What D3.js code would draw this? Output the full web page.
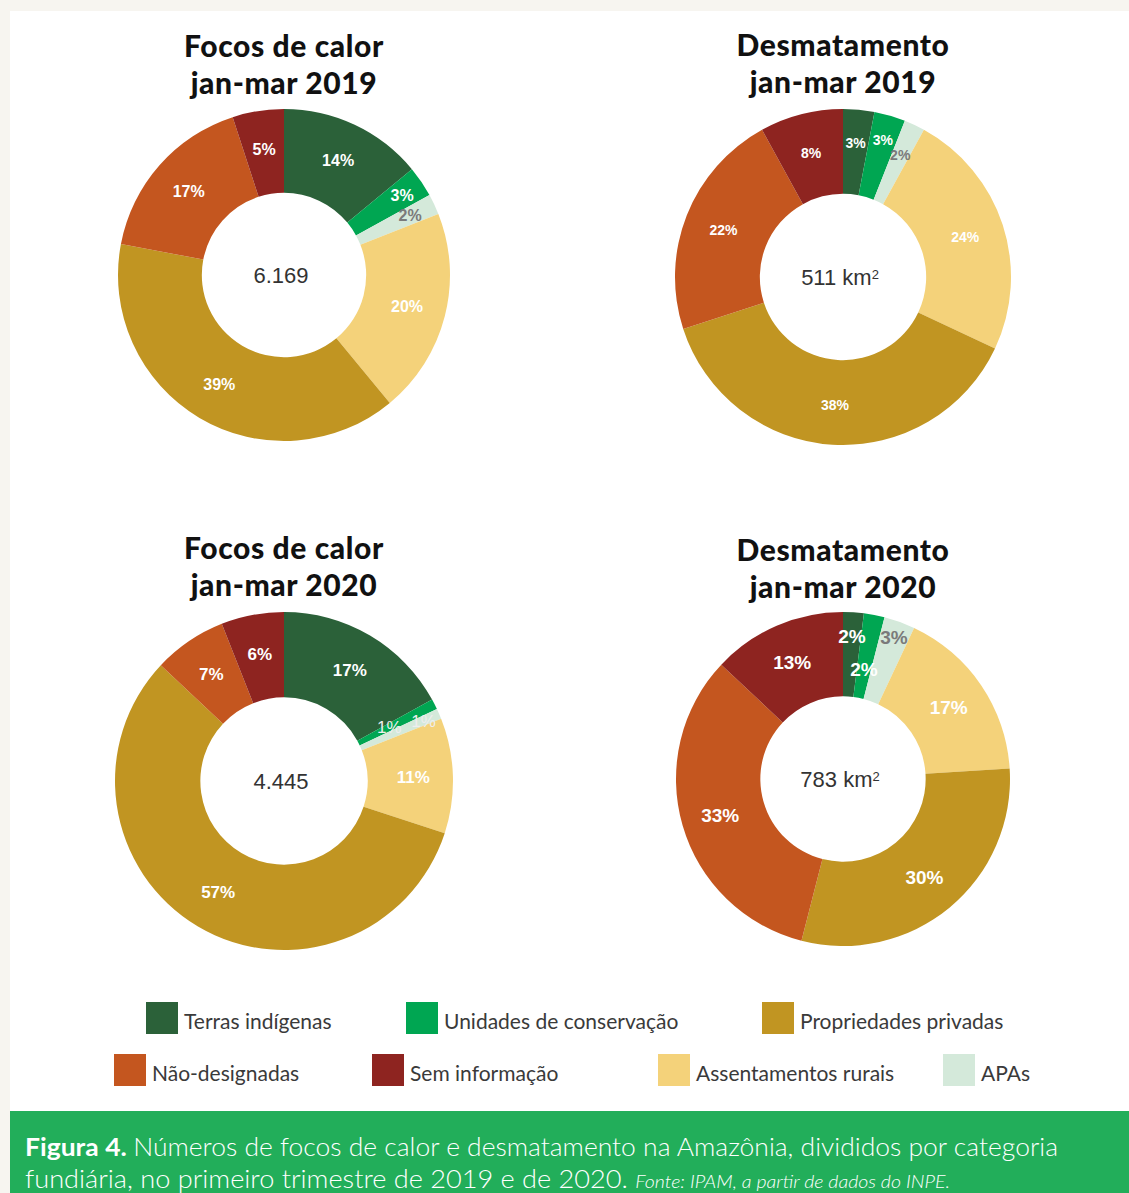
<!DOCTYPE html>
<html>
<head>
<meta charset="utf-8">
<script src="https://cdn.jsdelivr.net/npm/d3@7"></script>
<style>
  body { margin: 0; background: #f7f5f0; }
  svg { display: block; }
</style>
</head>
<body>
<script>
//Width and height
var w = 1129;
var h = 1193;

//Categories, in slice order (clockwise from 12 o'clock)
var categories = ["Terras indígenas", "Unidades de conservação", "APAs", "Assentamentos rurais",
  "Propriedades privadas", "Não-designadas", "Sem informação"];
var colors = ["#2b6139", "#00a652", "#d4e9da", "#f4d27a", "#c19522", "#c4561f", "#8e2420"];

//Series values (%)
var focos2019 = [14, 3, 2, 20, 39, 17, 5];
var desmat2019 = [3, 3, 2, 24, 38, 22, 8];
var focos2020 = [17, 1, 1, 11, 57, 7, 6];
var desmat2020 = [2, 2, 3, 17, 30, 33, 13];

var titlesTop = ["Focos de calor", "Desmatamento", "Focos de calor", "Desmatamento"];
var titlesBottom = ["jan-mar 2019", "jan-mar 2019", "jan-mar 2020", "jan-mar 2020"];
var totals = ["6.169", "511 km", "4.445", "783 km"];

//Legend rows
var legendRow1 = ["Terras indígenas", "Unidades de conservação", "Propriedades privadas"];
var legendRow2 = ["Não-designadas", "Sem informação", "Assentamentos rurais", "APAs"];

var svg = d3.select("body").append("svg").attr("width", w).attr("height", h);

//Panel and footer
svg.append("rect").attr("x", 10).attr("y", 11).attr("width", w - 10).attr("height", 1101).attr("fill", "#ffffff");
svg.append("rect").attr("x", 10).attr("y", 1111).attr("width", w - 10).attr("height", h - 1111).attr("fill", "#22ae5a");

//Chart layouts
var charts = [
  { data: focos2019, cx: 284, cy: 275, r: 166, fs: 16, smallR: [0.86, 0.84], sup: false, ty: 57 },
  { data: desmat2019, cx: 843, cy: 277, r: 168, fs: 14, smallR: [0.8, 0.85, 0.8], sup: true, ty: 56 },
  { data: focos2020, cx: 284, cy: 781, r: 169, fs: 17, smallR: [0.7, 0.9], sup: false, ty: 559 },
  { data: desmat2020, cx: 843, cy: 779, r: 167, fs: 19, smallR: [0.86, 0.67, 0.9], sup: true, ty: 561 }
];

var color = d3.scaleOrdinal().domain(categories).range(colors);

var pie = d3.pie().sort(null).value(function (d) { return d.value; });

charts.forEach(function (c, ci) {
  var rows = c.data.map(function (v, i) { return { cat: categories[i], value: v }; });
  var inner = c.r * 0.495;
  var arc = d3.arc().innerRadius(inner).outerRadius(c.r);
  var g = svg.append("g").attr("transform", "translate(" + c.cx + "," + c.cy + ")");

  var arcs = pie(rows);
  g.selectAll("path.slice")
    .data(arcs)
    .enter()
    .append("path")
    .attr("class", "slice")
    .attr("d", arc)
    .attr("fill", function (d) { return color(d.data.cat); });

  //Labels
  var k = 0;
  arcs.forEach(function (d) {
    var mid = (d.startAngle + d.endAngle) / 2;
    var rr = (inner + c.r) / 2 + 3;
    var small = d.data.value < 5;
    if (small) { rr = c.r * c.smallR[k]; k++; }
    var isApa = d.data.cat === "APAs";
    var thin = ci === 2 && small;
    g.append("text")
      .attr("x", Math.sin(mid) * rr)
      .attr("y", -Math.cos(mid) * rr)
      .attr("dy", "0.36em")
      .attr("text-anchor", "middle")
      .attr("font-family", "Liberation Sans, Arial, sans-serif")
      .attr("font-weight", thin ? "normal" : "bold")
      .attr("font-size", c.fs)
      .attr("fill", thin ? "#eeeeee" : (isApa ? "#7a7a7a" : "#ffffff"))
      .text(d.data.value + "%");
  });

  //Center total
  var t = g.append("text")
    .attr("x", -3)
    .attr("y", 0)
    .attr("dy", "0.36em")
    .attr("text-anchor", "middle")
    .attr("font-family", "Liberation Sans, Arial, sans-serif")
    .attr("font-size", 22)
    .attr("fill", "#333333")
    .text(totals[ci]);
  if (c.sup) {
    t.append("tspan").attr("dy", "-0.45em").attr("font-size", 13).text("2");
  }

  //Titles
  [titlesTop[ci], titlesBottom[ci]].forEach(function (s, j) {
    svg.append("text")
      .attr("x", c.cx)
      .attr("y", c.ty + j * 37)
      .attr("text-anchor", "middle")
      .attr("font-family", "Lato, sans-serif")
      .attr("font-weight", 900)
      .attr("font-size", 30)
      .attr("letter-spacing", 0.6)
      .attr("fill", "#111111")
      .text(s);
  });
});

//Legend
var legendX1 = [146, 406, 762];
var legendX2 = [114, 372, 658, 943];

function drawLegend(items, xs, y) {
  var lg = svg.append("g").selectAll("g")
    .data(items)
    .enter()
    .append("g")
    .attr("transform", function (d, i) { return "translate(" + xs[i] + "," + y + ")"; });
  lg.append("rect")
    .attr("width", 32)
    .attr("height", 32)
    .attr("fill", function (d) { return color(d); });
  lg.append("text")
    .attr("x", 38)
    .attr("y", 27)
    .attr("font-family", "Lato, sans-serif")
    .attr("font-size", 21)
    .attr("fill", "#3a3a3a")
    .text(function (d) { return d; });
}
drawLegend(legendRow1, legendX1, 1002);
drawLegend(legendRow2, legendX2, 1054);

//Caption
var cap1 = svg.append("text")
  .attr("x", 25)
  .attr("y", 1156)
  .attr("font-family", "Lato, sans-serif")
  .attr("font-size", 25)
  .attr("fill", "#ffffff")
  .attr("textLength", 1033)
  .attr("lengthAdjust", "spacingAndGlyphs");
cap1.append("tspan").attr("font-weight", "bold").text("Figura 4. ");
cap1.append("tspan").attr("font-weight", 300).text("Números de focos de calor e desmatamento na Amazônia, divididos por categoria");

var cap2 = svg.append("text")
  .attr("x", 25)
  .attr("y", 1188)
  .attr("font-family", "Lato, sans-serif")
  .attr("font-size", 25)
  .attr("fill", "#ffffff")
  .attr("textLength", 925)
  .attr("lengthAdjust", "spacingAndGlyphs");
cap2.append("tspan").attr("font-weight", 300).text("fundiária, no primeiro trimestre de 2019 e de 2020. ");
cap2.append("tspan").attr("font-style", "italic").attr("font-weight", 300).attr("font-size", 18).text("Fonte: IPAM, a partir de dados do INPE.");
</script>
</body>
</html>
